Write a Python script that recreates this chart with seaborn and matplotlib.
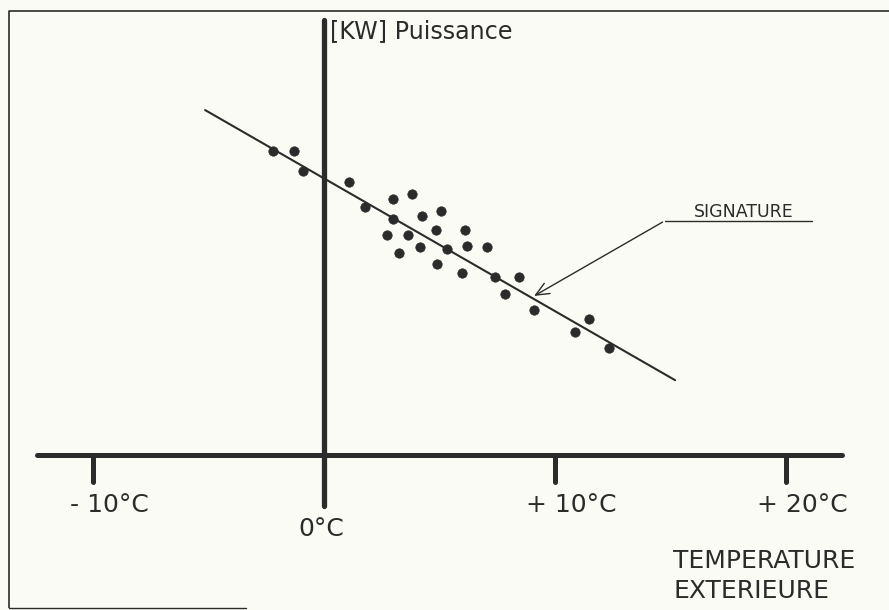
import matplotlib
matplotlib.use("Agg")
import matplotlib.pyplot as plt
import seaborn as sns
import numpy as np

# measured points: outdoor temperature (°C) vs power (arbitrary kW units)
temp = [-2.19, -1.30, -0.90, 1.10, 1.79, 2.97, 3.80, 2.97, 4.23, 5.06,
        2.71, 3.65, 4.84, 6.09, 3.25, 4.17, 5.34, 6.18, 7.07, 4.90,
        5.99, 7.40, 8.45, 7.84, 9.10, 10.87, 11.47, 12.34]
power = [69.9, 69.9, 65.4, 62.7, 56.9, 58.8, 59.9, 54.2, 55.0, 56.0,
         50.6, 50.5, 51.7, 51.8, 46.4, 47.8, 47.3, 48.0, 47.9, 43.8,
         41.8, 41.0, 40.9, 36.9, 33.3, 28.3, 31.3, 24.6]

# the "signature" line (drawn by hand on the original)
sig_x = [-5.15, 15.2]
sig_y = [79.3, 17.2]

tick_pos = [-10, 10, 20]
tick_labels = ["- 10°C", "+ 10°C", "+ 20°C"]

ink = "#2b2b2b"
paper = "#fbfbf6"

sns.set_theme(style="white")
plt.rcParams["font.family"] = ["DejaVu Sans"]

fig = plt.figure(figsize=(8.89, 6.10), dpi=100, facecolor=paper)
ax = fig.add_axes([0, 0, 1, 1])
ax.set_facecolor(paper)
ax.set_xlim(-14.03, 24.46)
ax.set_ylim(-35.63, 104.6)
ax.set_axis_off()

# frame around the figure
ax.plot([-13.64, -13.64, 25], [-35.2, 102.1, 102.1], color=ink, lw=1.2, solid_capstyle="butt")
ax.plot([-13.64, -3.4], [-35.2, -35.2], color=ink, lw=1.0)

# axes drawn as thick strokes
ax.plot([-12.42, 22.42], [0, 0], color=ink, lw=3.6, solid_capstyle="round")
ax.plot([0, 0], [-11.7, 100], color=ink, lw=3.8, solid_capstyle="round")
ax.vlines(tick_pos, -6.2, 0, color=ink, lw=3.6, capstyle="round")

# data
sns.lineplot(x=sig_x, y=sig_y, color=ink, lw=1.5, ax=ax)
sns.scatterplot(x=temp, y=power, s=46, color=ink, edgecolor=ink, linewidth=0.5, ax=ax)

# labels
lab_fs = 18
for xp, lab in zip(tick_pos, tick_labels):
    ax.text(xp + 0.7, -13.1, lab, ha="center", va="baseline", fontsize=lab_fs, color=ink)
ax.text(-0.13, -18.6, "0°C", ha="center", va="baseline", fontsize=lab_fs, color=ink)
ax.text(15.11, -26.0, "TEMPERATURE", ha="left", va="baseline", fontsize=lab_fs, color=ink)
ax.text(15.11, -32.9, "EXTERIEURE", ha="left", va="baseline", fontsize=lab_fs, color=ink)
ax.text(0.26, 95.9, "[KW] Puissance", ha="left", va="baseline", fontsize=17.2, color=ink)

# signature annotation
ax.plot([14.76, 21.13], [53.86, 53.86], color=ink, lw=1.0)
ax.annotate("", xy=(8.99, 36.25), xytext=(14.76, 53.86),
            arrowprops=dict(arrowstyle="->,head_length=0.8,head_width=0.35", color=ink, lw=1.0))
ax.text(18.18, 54.6, "SIGNATURE", ha="center", va="baseline", fontsize=12.5, color=ink)

fig.savefig("out.png", dpi=100, facecolor=paper)
